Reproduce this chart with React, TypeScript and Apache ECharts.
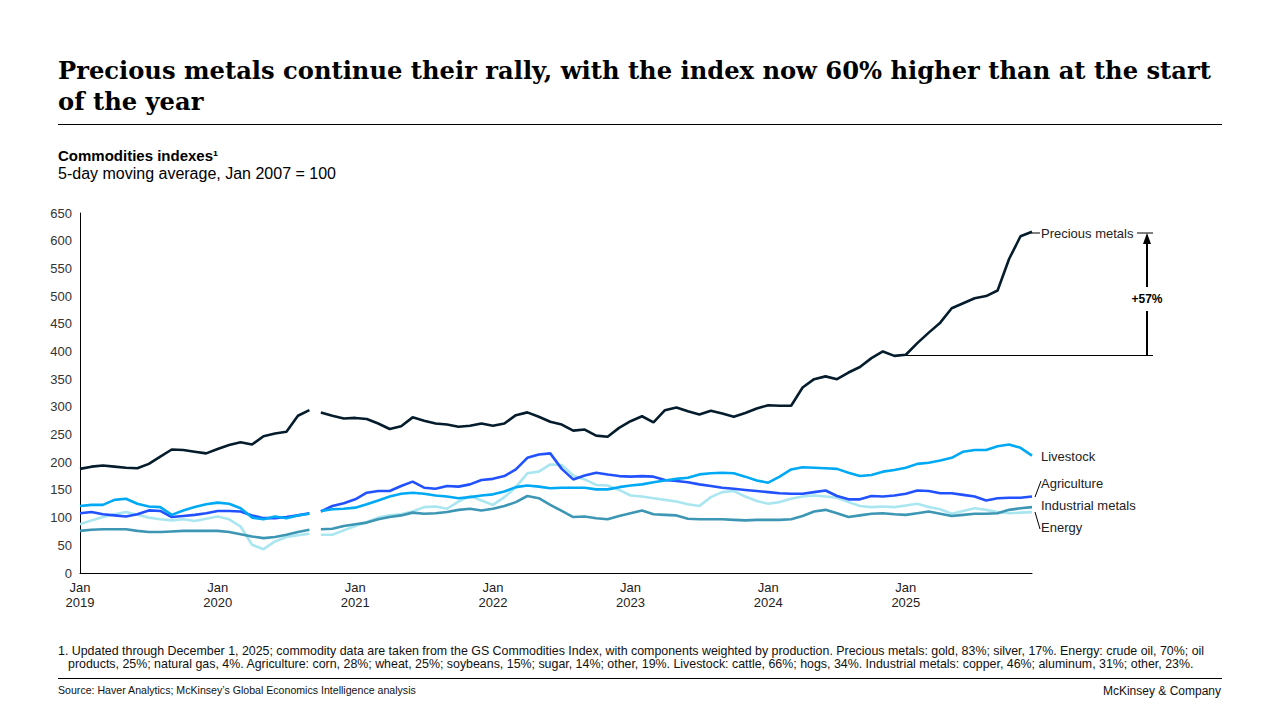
import React, { useEffect, useRef } from "react";
import * as echarts from "echarts";

// ---- Data (monthly, Jan 2019 = index 0 ... Dec 2025 = index 83) ----
const firstYear = 2019;
const lastMonthIndex = 83;
const gapAfterMonth = 20; // data gap after Sep 2020

const preciousMetals = [
  188, 192, 194, 192, 190, 189, 197, 210, 223, 222, 219, 216,
  224, 231, 236, 232, 247, 252, 255, 284, 294,
  290, 284, 279,
  280, 278, 270, 260, 265, 281, 275, 270, 268, 264, 266, 270,
  266, 270, 285, 290, 282, 273, 268, 257, 259, 248, 246, 262,
  274, 283, 272, 294, 299, 292, 286, 293, 288, 282, 289, 297,
  303, 302, 302, 335, 350, 355, 350, 362, 372, 388, 400, 392,
  394, 415, 434, 452, 478, 487, 496, 500, 510, 567, 608, 616,
];

const livestock = [
  121, 123, 123, 132, 134, 125, 120, 119, 105, 113, 119, 124,
  127, 125, 117, 100, 97, 102, 99, 104, 107,
  112, 115, 116,
  118, 124, 131, 138, 143, 145, 143, 140, 138, 135, 137, 140,
  142, 147, 155, 158, 156, 153, 154, 154, 154, 151, 151, 155,
  158, 160, 164, 167, 170, 172, 178, 180, 181, 180, 174, 167,
  163, 174, 187, 191, 190, 189, 188, 181, 175, 177, 183, 186,
  190, 197, 199, 203, 208, 219, 222, 222, 229, 232, 226, 212,
];

const agriculture = [
  108, 110, 106, 104, 102, 106, 113, 112, 101, 103, 105, 108,
  112, 112, 111, 104, 99, 99, 101, 104, 108,
  111, 121, 126,
  133, 145, 148, 148, 157, 165, 154, 152, 157, 156, 160, 168,
  170, 175, 187, 208, 214, 216, 188, 169, 176, 181, 178, 175,
  174, 175, 174, 168, 166, 164, 160, 157, 154, 152, 150, 148,
  146, 144, 143, 143, 146, 149, 139, 133, 133, 139, 138, 140,
  143, 149, 148, 144, 144, 141, 138, 131, 135, 136, 136, 138,
];

const industrialMetals = [
  76, 78, 79, 79, 79, 76, 74, 74, 75, 76, 76, 76,
  76, 74, 70, 66, 63, 65, 69, 74, 78,
  79, 80, 85,
  88, 91, 97, 101, 104, 109, 107, 108, 110, 114, 116, 113,
  116, 121, 128, 139, 135, 123, 112, 101, 102, 99, 97, 103,
  108, 113, 106, 105, 104, 98, 97, 97, 97, 96, 95, 96,
  96, 96, 97, 103, 111, 114, 108, 101, 104, 107, 108, 106,
  105, 108, 111, 107, 103, 105, 107, 107, 108, 114, 117, 119,
];

const energy = [
  88, 95, 101, 106, 110, 105, 100, 97, 95, 97, 94, 98,
  102, 97, 84, 51, 43, 57, 65, 68, 71,
  69, 69, 77,
  85, 92, 100, 104, 106, 111, 119, 120, 116, 129, 139, 131,
  123, 137, 155, 180, 183, 196, 195, 176, 169, 159, 158, 150,
  140, 138, 135, 132, 129, 124, 121, 137, 146, 148, 138, 130,
  125, 128, 134, 138, 140, 138, 136, 128, 121, 119, 120, 119,
  122, 125, 119, 115, 107, 112, 117, 114, 110, 108, 109, 110,
];

const yTicks = { min: 0, max: 650, interval: 50 };

const seriesDefs = [
  { name: "Energy", values: energy, color: "#AAE6F0" },
  { name: "Industrial metals", values: industrialMetals, color: "#3C96B4" },
  { name: "Agriculture", values: agriculture, color: "#2251FF" },
  { name: "Livestock", values: livestock, color: "#00A9F4" },
  { name: "Precious metals", values: preciousMetals, color: "#051C2C" },
];

const titleLines = [
  "Precious metals continue their rally, with the index now 60% higher than at the start",
  "of the year",
];
const chartTitle = "Commodities indexes\u00B9";
const chartSubtitle = "5-day moving average, Jan 2007 = 100";
const footnoteLines = [
  "1. Updated through December 1, 2025; commodity data are taken from the GS Commodities Index, with components weighted by production. Precious metals: gold, 83%; silver, 17%. Energy: crude oil, 70%; oil",
  "products, 25%; natural gas, 4%. Agriculture: corn, 28%; wheat, 25%; soybeans, 15%; sugar, 14%; other, 19%. Livestock: cattle, 66%; hogs, 34%. Industrial metals: copper, 46%; aluminum, 31%; other, 23%.",
];
const sourceText = "Source: Haver Analytics; McKinsey\u2019s Global Economics Intelligence analysis";
const brandText = "McKinsey & Company";
const changeLabel = "+57%";

const SANS = '"Liberation Sans", Arial, sans-serif';
const SERIF = '"DejaVu Serif", "Liberation Serif", serif';

function buildPoints(values: number[]) {
  const pts: any[] = [];
  values.forEach((v, i) => {
    pts.push([i, v]);
    if (i === gapAfterMonth) pts.push([i + 0.5, null]);
  });
  return pts;
}

export default function App() {
  const ref = useRef<HTMLDivElement>(null);

  useEffect(() => {
    if (!ref.current) return;
    document.body.style.margin = "0";
    const chart = echarts.init(ref.current, undefined, { renderer: "svg" });

    const text = (x: number, y: number, t: string, font: string, extra: any = {}) => ({
      type: "text",
      x,
      y,
      silent: true,
      style: { text: t, font, fill: "#000", verticalAlign: "middle", align: "left", ...extra },
    });
    const line = (x1: number, y1: number, x2: number, y2: number, w = 1) => ({
      type: "line",
      silent: true,
      shape: { x1, y1, x2, y2 },
      style: { stroke: "#000", lineWidth: w },
    });

    const labelFont = `13px ${SANS}`;

    const graphic: any[] = [
      text(58, 70, titleLines[0], `bold 24.2px ${SERIF}`),
      text(58, 101, titleLines[1], `bold 24.2px ${SERIF}`),
      line(58, 124.5, 1222, 124.5),
      text(58, 155, chartTitle, `bold 15px ${SANS}`),
      text(58, 173, chartSubtitle, `16px ${SANS}`),
      // series end labels
      line(1031, 233, 1040, 233),
      text(1041, 233, "Precious metals", labelFont, { fill: "#222" }),
      text(1041, 456, "Livestock", labelFont, { fill: "#222" }),
      line(1035, 497, 1041, 481),
      text(1041, 483, "Agriculture", labelFont, { fill: "#222" }),
      text(1041, 505, "Industrial metals", labelFont, { fill: "#222" }),
      line(1035, 512, 1040, 529),
      text(1041, 527, "Energy", labelFont, { fill: "#222" }),
      // change annotation
      line(1137, 233, 1153, 233),
      line(906, 355.5, 1153, 355.5),
      line(1147, 355.5, 1147, 311, 2),
      line(1147, 287, 1147, 242, 2),
      {
        type: "polygon",
        silent: true,
        shape: { points: [[1147, 233], [1143, 244], [1151, 244]] },
        style: { fill: "#000" },
      },
      text(1147, 299, changeLabel, `bold 12px ${SANS}`, { align: "center" }),
      // footer
      text(58, 651, footnoteLines[0], `12.4px ${SANS}`, { fill: "#111" }),
      text(68, 664, footnoteLines[1], `12.4px ${SANS}`, { fill: "#111" }),
      line(58, 678.5, 1222, 678.5),
      text(58, 690, sourceText, `10.6px ${SANS}`, { fill: "#111" }),
      text(1221, 691, brandText, `12px ${SANS}`, { fill: "#111", align: "right" }),
    ];

    chart.setOption({
      animation: false,
      backgroundColor: "#ffffff",
      grid: { left: 80, top: 213, width: 952, height: 360, containLabel: false },
      xAxis: {
        type: "value",
        min: 0,
        max: lastMonthIndex,
        interval: 12,
        axisLine: { show: true, lineStyle: { color: "#000", width: 1 } },
        axisTick: { show: false },
        splitLine: { show: false },
        axisLabel: {
          color: "#222",
          fontSize: 13,
          fontFamily: SANS,
          lineHeight: 15,
          margin: 7,
          showMaxLabel: false,
          formatter: (v: number) =>
            v % 12 === 0 ? `Jan\n${firstYear + v / 12}` : "",
        },
      },
      yAxis: {
        type: "value",
        min: yTicks.min,
        max: yTicks.max,
        interval: yTicks.interval,
        axisLine: { show: true, lineStyle: { color: "#000", width: 1 } },
        axisTick: { show: false },
        splitLine: { show: false },
        axisLabel: { color: "#333", fontSize: 13, fontFamily: SANS, margin: 8 },
      },
      series: seriesDefs.map((s) => ({
        name: s.name,
        type: "line",
        data: buildPoints(s.values),
        showSymbol: false,
        connectNulls: false,
        silent: true,
        lineStyle: { color: s.color, width: 2.6 },
        itemStyle: { color: s.color },
      })),
      graphic,
    });

    return () => chart.dispose();
  }, []);

  return (
    <div
      ref={ref}
      style={{ position: "absolute", left: 0, top: 0, width: 1280, height: 720, background: "#fff" }}
    />
  );
}
